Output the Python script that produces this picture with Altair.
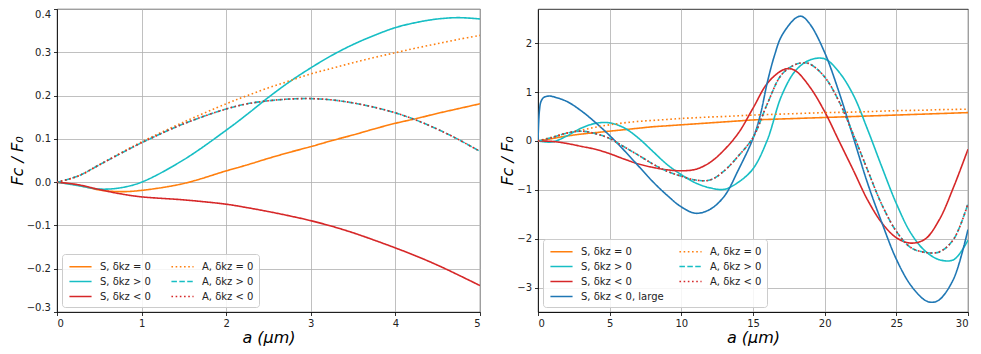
import altair as alt
import pandas as pd

# ---------------- Left panel data (a in micrometres) ----------------
xL = [0, 0.25, 0.5, 0.75, 1, 1.5, 2, 2.25, 2.5, 2.75, 3, 3.25, 3.5, 3.75, 4, 4.25, 4.5, 4.75, 5]
L_S0 = [0, -0.007, -0.018, -0.022, -0.019, -0.003, 0.026, 0.040, 0.055, 0.069, 0.082, 0.096, 0.109, 0.123, 0.136, 0.147, 0.159, 0.170, 0.181]
L_Sp = [0, -0.008, -0.016, -0.013, 0.0, 0.052, 0.120, 0.157, 0.196, 0.232, 0.264, 0.293, 0.318, 0.339, 0.357, 0.369, 0.377, 0.380, 0.377]
L_Sm = [0, -0.006, -0.017, -0.027, -0.034, -0.041, -0.051, -0.059, -0.068, -0.078, -0.089, -0.102, -0.117, -0.134, -0.152, -0.171, -0.192, -0.215, -0.239]
L_A0 = [0, 0.014, 0.040, 0.067, 0.093, 0.139, 0.181, 0.200, 0.218, 0.234, 0.250, 0.263, 0.276, 0.288, 0.299, 0.310, 0.320, 0.330, 0.339]
L_Ap = [0, 0.014, 0.040, 0.066, 0.091, 0.135, 0.169, 0.181, 0.188, 0.192, 0.193, 0.190, 0.183, 0.173, 0.160, 0.143, 0.122, 0.098, 0.071]
L_Am = [0, 0.014, 0.040, 0.066, 0.091, 0.135, 0.169, 0.181, 0.188, 0.192, 0.193, 0.190, 0.183, 0.173, 0.160, 0.143, 0.122, 0.098, 0.071]

# ---------------- Right panel data ----------------
xR = list(range(0, 31))
R_S0 = [0, 0.05, 0.10, 0.14, 0.17, 0.20, 0.23, 0.26, 0.29, 0.31, 0.33, 0.35, 0.37, 0.39, 0.41, 0.43,
        0.44, 0.45, 0.46, 0.47, 0.48, 0.49, 0.50, 0.51, 0.52, 0.53, 0.54, 0.55, 0.56, 0.57, 0.58]
R_A0 = [0, 0.08, 0.16, 0.22, 0.28, 0.33, 0.37, 0.40, 0.42, 0.44, 0.46, 0.475, 0.49, 0.50, 0.515, 0.53,
        0.54, 0.55, 0.56, 0.57, 0.58, 0.585, 0.59, 0.60, 0.61, 0.62, 0.625, 0.63, 0.64, 0.645, 0.65]
R_Sp = [0, -0.02, 0.10, 0.26, 0.36, 0.37, 0.27, 0.06, -0.21, -0.48, -0.69, -0.86, -0.96, -0.99, -0.84, -0.57,
        0.02, 0.93, 1.45, 1.66, 1.68, 1.41, 0.94, 0.23, -0.54, -1.28, -1.88, -2.25, -2.43, -2.43, -2.03]
xR_Sm = [0, 1, 2, 3, 4, 5, 6, 7, 8, 9, 10, 11, 12, 13, 14, 15, 16, 17, 17.5, 18, 19, 20, 21, 22, 23, 24, 25, 26, 27, 28, 29, 30]
R_Sm = [0, -0.01, -0.05, -0.11, -0.17, -0.26, -0.37, -0.47, -0.54, -0.59, -0.61, -0.58, -0.44, -0.18, 0.17, 0.67,
        1.18, 1.44, 1.48, 1.43, 1.09, 0.60, 0.0, -0.60, -1.21, -1.68, -1.98, -2.09, -2.01, -1.61, -0.94, -0.17]
xR_big = [0, 0.05, 0.1, 0.2, 0.4, 0.8, 1, 2, 3, 4, 5, 6, 7, 8, 9, 10, 11, 12, 13, 14, 15, 15.5, 16, 16.5, 17, 18, 18.4,
          19, 20, 21, 22, 23, 24, 25, 26, 27, 27.5, 28, 29, 30]
R_big = [0, 0.40, 0.62, 0.80, 0.89, 0.92, 0.91, 0.81, 0.62, 0.38, 0.11, -0.19, -0.51, -0.83, -1.11, -1.35, -1.48,
         -1.40, -1.13, -0.58, 0.05, 0.52, 1.20, 1.75, 2.15, 2.52, 2.55, 2.38, 1.81, 1.00, 0.07, -0.87, -1.68, -2.42,
         -2.95, -3.26, -3.30, -3.25, -2.82, -1.81]
xR_A = [0, 1, 2, 3, 4, 5, 6, 7, 8, 9, 10, 11, 12, 13, 14, 15, 16, 17, 18, 18.6, 19, 20, 21, 22, 23, 24, 25, 26, 27, 28, 29, 30]
R_Ap = [0, 0.07, 0.16, 0.20, 0.15, 0.05, -0.12, -0.29, -0.47, -0.62, -0.72, -0.80, -0.80, -0.61, -0.30, 0.07,
        0.76, 1.36, 1.57, 1.60, 1.57, 1.31, 0.81, 0.13, -0.60, -1.31, -1.85, -2.18, -2.28, -2.27, -2.01, -1.28]
R_Am = R_Ap

# ---------------- Labels / styles ----------------
N_S0 = "S, δkz = 0"
N_Sp = "S, δkz > 0"
N_Sm = "S, δkz < 0"
N_big = "S, δkz < 0, large"
N_A0 = "A, δkz = 0"
N_Ap = "A, δkz > 0"
N_Am = "A, δkz < 0"

ORANGE, CYAN, RED, BLUE = "#ff7f0e", "#17bec4", "#d62728", "#1f77b4"
SOLID, DOT, DASH = [1, 0], [1.6, 2.6], [5.5, 2.4]


def build(series):
    rows = []
    for order, (name, xs, ys) in enumerate(series):
        for x, y in zip(xs, ys):
            rows.append({"x": x, "y": y, "series": name, "k": order})
    return pd.DataFrame(rows)


left_df = build([(N_S0, xL, L_S0), (N_Sp, xL, L_Sp), (N_Sm, xL, L_Sm),
                 (N_A0, xL, L_A0), (N_Ap, xL, L_Ap), (N_Am, xL, L_Am)])
right_df = build([(N_S0, xR, R_S0), (N_Sp, xR, R_Sp), (N_Sm, xR_Sm, R_Sm), (N_big, xR_big, R_big),
                  (N_A0, xR, R_A0), (N_Ap, xR_A, R_Ap), (N_Am, xR_A, R_Am)])

# legend entries fill column by column
left_dom = [N_S0, N_Sp, N_Sm, N_A0, N_Ap, N_Am]
left_col = [ORANGE, CYAN, RED, ORANGE, CYAN, RED]
left_dash = [SOLID, SOLID, SOLID, DOT, DASH, DOT]
right_dom = [N_S0, N_Sp, N_Sm, N_big, N_A0, N_Ap, N_Am]
right_col = [ORANGE, CYAN, RED, BLUE, ORANGE, CYAN, RED]
right_dash = [SOLID, SOLID, SOLID, SOLID, DOT, DASH, DOT]


def legend(colpad):
    return alt.Legend(title=None, orient="bottom-left", offset=5, columns=2,
                      symbolType="M-1.75,0H1.75", symbolSize=160, symbolStrokeWidth=1.6,
                      symbolOffset=6, labelOffset=12, labelFont="DejaVu Sans", labelFontSize=10,
                      labelColor="#222", rowPadding=2, columnPadding=colpad, padding=5,
                      fillColor="rgba(255,255,255,0.85)", strokeColor="#cccccc", cornerRadius=3)


def panel(df, dom, cols, dashes, xdom, ydom, xticks, yticks, yfmt, w, h, colpad, flush):
    yaxis = dict(values=yticks, format=yfmt, title="Fᴄ / F₀", titleFontStyle="italic")
    if flush:
        yaxis["labelFlush"] = True
    return alt.Chart(df).mark_line(strokeWidth=1.6, interpolate="catmull-rom", clip=True).encode(
        x=alt.X("x:Q", scale=alt.Scale(domain=xdom, nice=False, zero=False),
                axis=alt.Axis(values=xticks, format="d", title="a (μm)", titleFontStyle="italic")),
        y=alt.Y("y:Q", scale=alt.Scale(domain=ydom, nice=False, zero=False), axis=alt.Axis(**yaxis)),
        color=alt.Color("series:N", scale=alt.Scale(domain=dom, range=cols), legend=legend(colpad)),
        strokeDash=alt.StrokeDash("series:N", scale=alt.Scale(domain=dom, range=dashes), legend=legend(colpad)),
        order=alt.Order("x:Q"),
    ).properties(width=w, height=h)


left = panel(left_df, left_dom, left_col, left_dash, [0, 5], [-0.3, 0.4],
             [0, 1, 2, 3, 4, 5], [-0.3, -0.2, -0.1, 0.0, 0.1, 0.2, 0.3, 0.4], ".1f", 423, 303, 17, True)
right = panel(right_df, right_dom, right_col, right_dash, [0, 30], [-3.5, 2.7],
              [0, 5, 10, 15, 20, 25, 30], [-3, -2, -1, 0, 1, 2], "d", 430, 303, 12, False)

chart = alt.hconcat(left, right, spacing=58, bounds="flush").resolve_scale(
    color="independent", strokeDash="independent"
).properties(
    padding={"top": 0, "left": 0, "right": 0, "bottom": 0}
).configure_axis(
    grid=True, gridColor="#b0b0b0", gridWidth=0.8,
    domainColor="black", domainWidth=0.8, tickColor="black", tickWidth=0.8, tickSize=3.5,
    labelFont="DejaVu Sans", labelFontSize=10, labelColor="#222", labelPadding=3,
    titleFont="DejaVu Sans", titleFontSize=16, titleFontWeight="normal", titleColor="black", titlePadding=1,
).configure_view(stroke="black", strokeWidth=0.8)

chart.save("out.html", embed_options={"renderer": "svg", "actions": False})
